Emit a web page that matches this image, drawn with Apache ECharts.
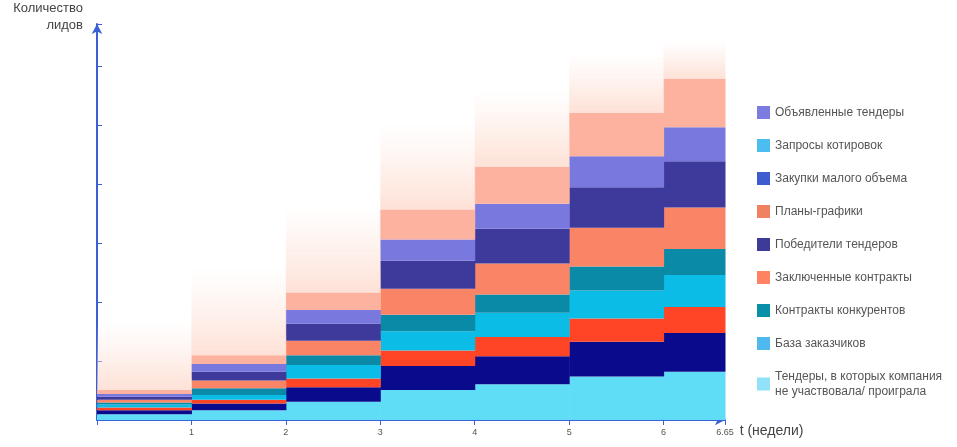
<!DOCTYPE html>
<html><head><meta charset="utf-8">
<script src="https://cdn.jsdelivr.net/npm/echarts@6/dist/echarts.min.js"></script>
<style>body{margin:0;background:#fff}#chart{width:957px;height:447px}</style>
</head><body><div id="chart"></div>
<script>
// границы недель (столбцы) и высоты слоёв снизу вверх
var edges = [0, 1, 2, 3, 4, 5, 6, 6.65];
var tenders = [6, 10, 19, 31, 37, 45, 50];
var baza = [4, 7, 15, 25, 29, 36, 40];
var konkurenty = [3, 4, 9, 16, 20, 24, 27];
var zaklyuchennye = [3, 5, 14, 20, 25, 29, 33];
var pobediteli = [2, 7, 10, 17, 19, 25, 27];
var plany = [3, 8, 15, 27, 32, 40, 43];
var zakupki = [3, 9, 18, 29, 36, 42, 48];
var zaprosy = [3, 8, 14, 22, 26, 32, 35];
var obyavlennye = [4, 9, 18, 31, 38, 45, 50];
var tail = [70, 90, 90, 90, 80, 62, 40];

var layers = [
    {name: 'Тендеры, в которых компания\nне участвовала/ проиграла', data: tenders, color: '#5fdcf6'},
    {name: 'База заказчиков', data: baza, color: '#0a0a8c'},
    {name: 'Контракты конкурентов', data: konkurenty, color: '#ff4526'},
    {name: 'Заключенные контракты', data: zaklyuchennye, color: '#0bbde6'},
    {name: 'Победители тендеров', data: pobediteli, color: '#0a8aa6'},
    {name: 'Планы-графики', data: plany, color: '#fa8466'},
    {name: 'Закупки малого объема', data: zakupki, color: '#3e3a9c'},
    {name: 'Запросы котировок', data: zaprosy, color: '#7878de'},
    {name: 'Объявленные тендеры', data: obyavlennye, color: '#fdb2a0'}
];
// цвета значков легенды как на оригинале
var legendColors = {
    'Объявленные тендеры': '#7b7be0',
    'Запросы котировок': '#4cbdf0',
    'Закупки малого объема': '#3f5bd0',
    'Планы-графики': '#f08262',
    'Победители тендеров': '#3d3a98',
    'Заключенные контракты': '#ff8262',
    'Контракты конкурентов': '#0a8fa8',
    'База заказчиков': '#4fb8ec',
    'Тендеры, в которых компания\nне участвовала/ проиграла': '#8fe2f8'
};

var chart = echarts.init(document.getElementById('chart'));
var base = [0, 0, 0, 0, 0, 0, 0];
var series = [];
function makeSeries(name, vals, fill) {
    var rows = [];
    for (var i = 0; i < vals.length; i++) {
        rows.push([edges[i], edges[i + 1], base[i], base[i] + vals[i]]);
        base[i] += vals[i];
    }
    return {
        name: name, type: 'custom', data: rows, itemStyle: {color: fill},
        renderItem: function (params, api) {
            var p0 = api.coord([api.value(0), api.value(3)]);
            var p1 = api.coord([api.value(1), api.value(2)]);
            return {type: 'rect', shape: {x: p0[0], y: p0[1], width: p1[0] - p0[0] + 0.5, height: p1[1] - p0[1]},
                style: {fill: fill}};
        }
    };
}
layers.forEach(function (l) { series.push(makeSeries(l.name, l.data, l.color)); });
series.push(makeSeries('tail', tail, new echarts.graphic.LinearGradient(0, 0, 0, 1, [
    {offset: 0, color: 'rgba(253,225,215,0)'}, {offset: 1, color: 'rgba(253,215,200,0.75)'}])));

var axisColor = '#3b5fd6';
chart.setOption({
    animation: false,
    grid: {left: 97, right: 232, top: 12, bottom: 27},
    xAxis: {
        type: 'value', min: 0, max: 6.65, interval: 1,
        axisLine: {lineStyle: {color: axisColor, width: 2}, symbol: ['none', 'arrow'], symbolSize: [8, 10]},
        axisTick: {show: true, lineStyle: {color: axisColor}},
        axisLabel: {color: '#555', fontSize: 9, formatter: function (v) { return v === 0 ? '' : v; }},
        splitLine: {show: false},
        name: 't (недели)', nameLocation: 'end', nameGap: 8,
        nameTextStyle: {color: '#444', fontSize: 14, verticalAlign: 'top', padding: [4, 0, 0, 0]}
    },
    yAxis: {
        type: 'value', min: 0, max: 410, interval: 61,
        axisLine: {show: true, lineStyle: {color: axisColor, width: 2}, symbol: ['none', 'arrow'], symbolSize: [8, 10]},
        axisTick: {show: true, inside: true, length: 5, lineStyle: {color: axisColor}},
        axisLabel: {show: false},
        splitLine: {show: false},
        name: 'Количество\nлидов', nameLocation: 'end', nameGap: -10,
        nameTextStyle: {color: '#444', fontSize: 13, align: 'right', lineHeight: 17, padding: [0, 14, 0, 0]}
    },
    legend: {
        orient: 'vertical', left: 752, top: 100, itemWidth: 13, itemHeight: 13, itemGap: 18,
        icon: 'rect', textStyle: {color: '#555', fontSize: 12, lineHeight: 15},
        data: Object.keys(legendColors).map(function (n) { return {name: n, itemStyle: {color: legendColors[n]}}; })
    },
    series: series
});
</script></body></html>
